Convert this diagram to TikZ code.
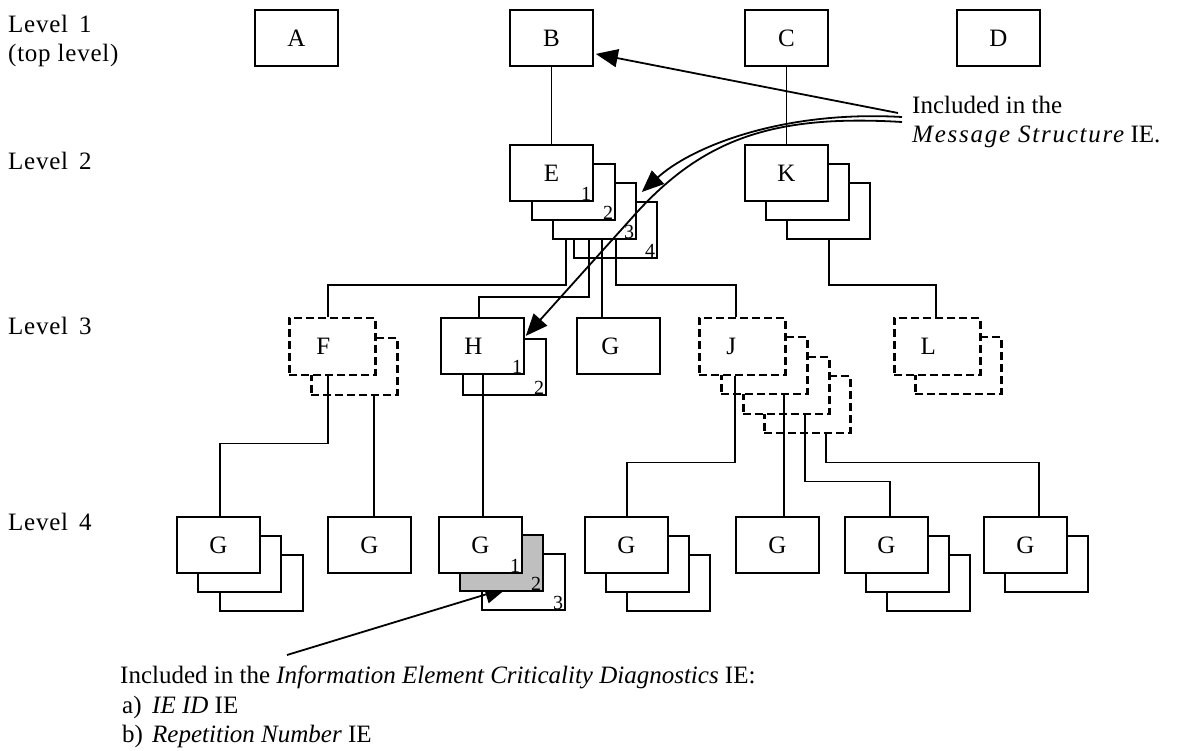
\documentclass[tikz,border=0pt]{standalone}
\usepackage{fontspec}
\setmainfont{Liberation Serif}
\usetikzlibrary{arrows.meta,calc}
\begin{document}
\begin{tikzpicture}[x=1pt,y=-1pt,
  every node/.style={inner sep=0pt},
  bx/.style={draw, fill=white, line width=1.8pt, minimum width=83pt, minimum height=56pt, anchor=north west, font=\fontsize{25}{28}\selectfont},
  dbx/.style={bx, dash pattern=on 8pt off 4pt, line width=2.5pt, minimum width=86pt, minimum height=57pt},
  gbx/.style={bx, fill=black!25},
  num/.style={anchor=base east, font=\fontsize{20}{22}\selectfont, xshift=-2.5pt, yshift=1.5pt},
  wire/.style={line width=1.8pt},
  txt/.style={anchor=base west, font=\fontsize{25}{28}\selectfont},
  lvl/.style={txt, font=\fontsize{25}{28}\selectfont\addfontfeature{LetterSpace=3}},
  ptr/.style={line width=1.8pt, -{Triangle[length=22pt,width=18pt]}},
]
\useasboundingbox (0,0) rectangle (1179,751);

% texts
\node[lvl] (lv1) at (8,33) {Level\kern4pt\ 1};
\node[lvl] (lv1b) at (8,62) {(top level)};
\node[lvl] (lv2) at (8,170) {Level\kern4pt\ 2};
\node[lvl] (lv3) at (8,335) {Level\kern4pt\ 3};
\node[lvl] (lv4) at (8,530) {Level\kern4pt\ 4};
\node[txt] (msg1) at (912,114) {Included in the};
\node[txt] (msg2) at (912,143) {{\itshape\addfontfeature{LetterSpace=7}Message Structure} IE.};
\node[txt] (crit) at (120,683) {Included in the \textit{Information Element Criticality Diagnostics} IE:};
\node[txt] (ia) at (122,713) {a)};
\node[txt] (iat) at (152,713) {\textit{IE ID} IE};
\node[txt] (ib) at (122,742) {b)};
\node[txt] (ibt) at (152,742) {\textit{Repetition Number} IE};

% level 1
\node[bx] (A) at (254,9) {A};
\node[bx] (B) at (509,9) {B};
\node[bx] (C) at (744,9) {C};
\node[bx] (D) at (956,9) {D};

% level 2
\node[bx] (E4) at (573,201) {};
\node[bx] (E3) at (552,182) {};
\node[bx] (E2) at (531,163) {};
\node[bx] (E1) at (509,144) {E};
\node[num] (nE1) at (E1.south east) {1};
\node[num] (nE2) at (E2.south east) {2};
\node[num] (nE3) at (E3.south east) {3};
\node[num] (nE4) at (E4.south east) {4};

\node[bx] (K3) at (786,182) {};
\node[bx] (K2) at (765,163) {};
\node[bx] (K1) at (744,144) {K};

% level 3
\node[dbx] (F2) at (310,337) {};
\node[dbx] (F1) at (288,317) {F\rule{18pt}{0pt}};
\node[bx] (H2) at (462,338) {};
\node[bx] (H1) at (440,317) {H\rule{18pt}{0pt}};
\node[num] (nH1) at (H1.south east) {1};
\node[num] (nH2) at (H2.south east) {2};
\node[bx] (G3) at (576,317) {G\rule{16pt}{0pt}};
\node[dbx] (J4) at (763,375) {};
\node[dbx] (J3) at (742,356) {};
\node[dbx] (J2) at (720,336) {};
\node[dbx] (J1) at (698,317) {J\rule{22pt}{0pt}};
\node[dbx] (L2) at (914,336) {};
\node[dbx] (L1) at (893,317) {L\rule{18pt}{0pt}};

% level 4
\node[bx] (Ga3) at (219,554) {};
\node[bx] (Ga2) at (197,535) {};
\node[bx] (Ga1) at (176,516) {G};
\node[bx] (Gb) at (327,516) {G};
\node[bx] (Gc3) at (481,553) {};
\coordinate (b1) at (287,655);
\draw[ptr] (b1) -- ($(Gc3.north west)+(26,35)$);
\node[gbx] (Gc2) at (459,534) {};
\node[bx] (Gc1) at (438,516) {G};
\node[num] (nG1) at (Gc1.south east) {1};
\node[num] (nG2) at (Gc2.south east) {2};
\node[num] (nG3) at (Gc3.south east) {3};
\node[bx] (Gd3) at (626,554) {};
\node[bx] (Gd2) at (605,535) {};
\node[bx] (Gd1) at (584,516) {G};
\node[bx] (Ge) at (735,516) {G};
\node[bx] (Gf3) at (886,554) {};
\node[bx] (Gf2) at (865,535) {};
\node[bx] (Gf1) at (844,516) {G};
\node[bx] (Gg2) at (1004,535) {};
\node[bx] (Gg1) at (983,516) {G};

% connectors
\draw[wire] (B.south) -- (E1.north);
\draw[wire] (C.south) -- (K1.north);
\draw[wire] ($(E3.south west)+(14,0)$) -- ++(0,45) -| ($(F1.north west)+(40,0)$);
\draw[wire] ($(E3.south west)+(37,0)$) -- ++(0,57) -| ($(H1.north west)+(39,0)$);
\draw[wire] ($(E3.south west)+(50,0)$) -- ($(G3.north west)+(26,0)$);
\draw[wire] ($(E3.south west)+(64,0)$) -- ++(0,45) -| ($(J1.north west)+(38,0)$);
\draw[wire] ($(K3.south west)+(43,0)$) -- ++(0,45) -| ($(L1.north west)+(43,0)$);
\draw[wire] ($(F1.south west)+(40,0)$) -- ++(0,67) -| ($(Ga1.north west)+(44,0)$);
\draw[wire] ($(F2.south west)+(64,0)$) -- ($(Gb.north west)+(47,0)$);
\draw[wire] ($(H1.south west)+(43,0)$) -- ($(Gc1.north west)+(45,0)$);
\draw[wire] ($(J1.south west)+(37,0)$) -- ++(0,86) -| ($(Gd1.north west)+(43,0)$);
\draw[wire] ($(J2.south west)+(64,0)$) -- ($(Ge.north west)+(49,0)$);
\draw[wire] ($(J3.south west)+(63,0)$) -- ++(0,66) -| ($(Gf1.north west)+(46,0)$);
\draw[wire] ($(J4.south west)+(63,0)$) -- ++(0,28) -| ($(Gg1.north west)+(56,0)$);

% pointers from the right text
\coordinate (a1) at (898,113);
\coordinate (a2) at (902,117);
\coordinate (a3) at (902,122);
\draw[ptr] (a1) -- ($(B.east)+(2,16)$);
\draw[ptr] (a2) .. controls (780,110) and (690,148) .. ($(E3.north east)+(5,10)$);
\draw[ptr] (a3) .. controls (770,114) and (700,140) .. (630,220) -- ($(H1.east)+(1,-10)$);
\end{tikzpicture}
\end{document}
